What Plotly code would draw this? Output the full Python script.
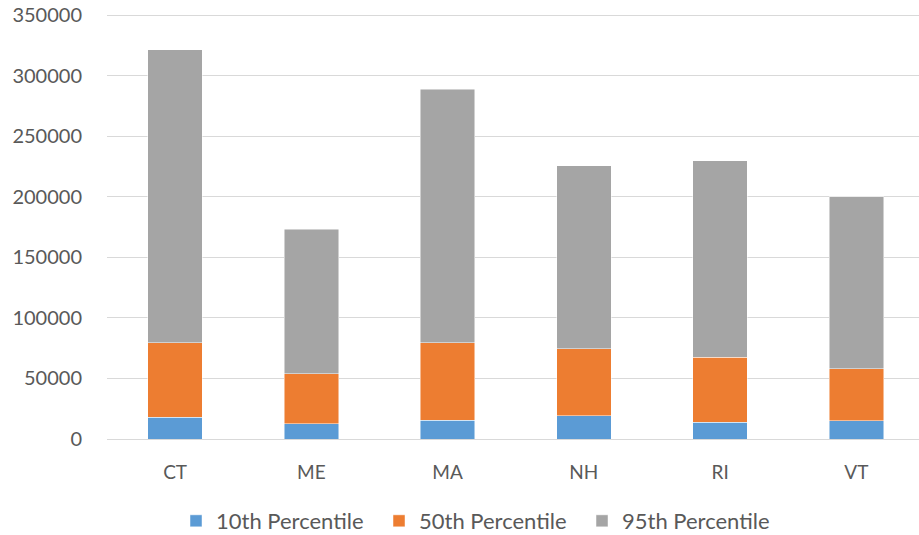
import plotly.graph_objects as go

states = ["CT", "ME", "MA", "NH", "RI", "VT"]
p10 = [18000, 12700, 15400, 19300, 14000, 15200]
p50 = [61600, 41300, 64200, 55400, 53500, 42900]
p95 = [241800, 119400, 209200, 150800, 162100, 142000]
series_names = ["10th Percentile", "50th Percentile", "95th Percentile"]
colors = ["#5B9BD5", "#ED7D31", "#A5A5A5"]

font_family = "Lato, 'Open Sans', sans-serif"
text_color = "#595959"

fig = go.Figure()
for name, vals, col in zip(series_names, [p10, p50, p95], colors):
    fig.add_trace(go.Bar(
        x=states, y=vals, name=name,
        marker=dict(color=col, line=dict(color="rgba(255,255,255,0.6)", width=0.8)),
        width=0.4,
    ))

fig.update_layout(
    barmode="stack",
    width=919, height=535,
    margin=dict(l=107, r=0, t=14, b=96, autoexpand=False),
    paper_bgcolor="white", plot_bgcolor="white",
    font=dict(family=font_family, size=19, color=text_color),
    showlegend=True,
    legend=dict(
        orientation="h",
        x=0.46, xanchor="center",
        y=-0.193, yanchor="middle",
        font=dict(size=22, color=text_color),
        traceorder="normal",
        entrywidth=158,
        entrywidthmode="pixels",
    ),
    bargap=0.6,
)
fig.update_xaxes(
    range=[-0.5, 5.46],
    showgrid=False, showline=False, ticks="",
    ticklabelstandoff=20,
    tickfont=dict(size=19, color=text_color),
)
fig.update_yaxes(
    range=[0, 351000],
    tickmode="linear", tick0=0, dtick=50000,
    tickformat="d",
    showgrid=True, gridcolor="#D9D9D9", gridwidth=1.3,
    zeroline=True, zerolinecolor="#D9D9D9", zerolinewidth=1.3,
    showline=False, ticks="",
    ticklabelstandoff=24,
    tickfont=dict(size=20, color=text_color),
)

fig.write_html(
    "out.html",
    config={"displayModeBar": False},
    post_script="document.body.style.margin='0';document.body.style.overflow='hidden';",
)
